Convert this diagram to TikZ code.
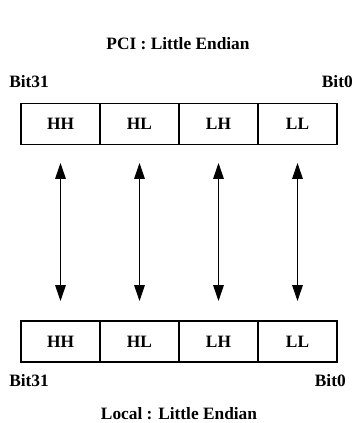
\documentclass[tikz,border=0pt]{standalone}
\usepackage{fontspec}
\setmainfont{Liberation Serif}
\usetikzlibrary{arrows.meta}
\begin{document}
\begin{tikzpicture}[x=0.75pt,y=-0.75pt,
  lbl/.style={font=\fontsize{13}{15}\selectfont\bfseries, inner sep=0pt},
  cell/.style={draw, line width=1.1pt, minimum width=59.25pt, minimum height=31pt, inner sep=0pt, font=\fontsize{13}{15}\selectfont\bfseries},
  dbl/.style={line width=0.8pt, {Triangle[length=12pt,width=8pt]}-{Triangle[length=12pt,width=8pt]}}]
\useasboundingbox (0,0) rectangle (355,423);
\node[lbl, anchor=base] (t1) at (178,50) {PCI : Little Endian};
\node[lbl, anchor=base west] (b31a) at (9,88) {Bit31};
\node[lbl, anchor=base east] (b0a) at (353,88) {Bit0};
\foreach \n/\t [count=\i from 0] in {a/HH,b/HL,c/LH,d/LL} {
  \node[cell] (u\n) at (60.5+79*\i,124) {\t};
  \node[cell] (l\n) at (60.5+79*\i,341.5) {\t};
  \coordinate (s\n) at (60.5+79*\i,163);
  \coordinate (e\n) at (60.5+79*\i,301);
  \draw[dbl] (s\n) -- (e\n);
}
\node[lbl, anchor=base west] (b31b) at (9,386) {Bit31};
\node[lbl, anchor=base east] (b0b) at (346,386) {Bit0};
\node[lbl, anchor=base] (t2) at (179,419) {Local : Little Endian};
\end{tikzpicture}
\end{document}
